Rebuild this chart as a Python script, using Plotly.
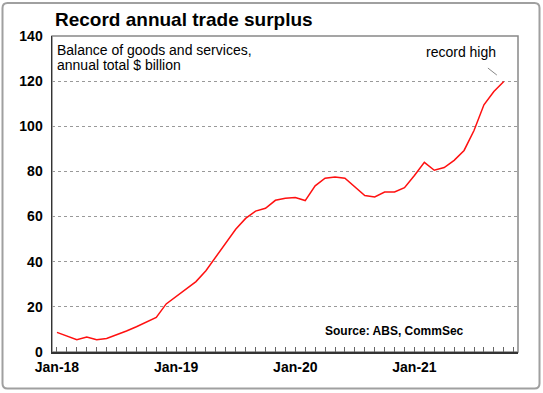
import plotly.graph_objects as go

# ---- data ----
months = ["Jan-18","Feb-18","Mar-18","Apr-18","May-18","Jun-18","Jul-18","Aug-18","Sep-18","Oct-18","Nov-18","Dec-18",
          "Jan-19","Feb-19","Mar-19","Apr-19","May-19","Jun-19","Jul-19","Aug-19","Sep-19","Oct-19","Nov-19","Dec-19",
          "Jan-20","Feb-20","Mar-20","Apr-20","May-20","Jun-20","Jul-20","Aug-20","Sep-20","Oct-20","Nov-20","Dec-20",
          "Jan-21","Feb-21","Mar-21","Apr-21","May-21","Jun-21","Jul-21","Aug-21","Sep-21","Oct-21"]
surplus = [8.7, 7.1, 5.4, 6.6, 5.4, 6.0, 7.6, 9.3, 11.2, 13.2, 15.3, 21.3,
           24.6, 27.8, 31.2, 36.0, 42.2, 48.6, 54.4, 59.2, 62.4, 63.7, 67.2, 68.1,
           68.4, 67.1, 73.6, 77.0, 77.5, 77.0, 73.1, 69.3, 68.7, 70.9, 70.9, 72.8,
           78.2, 84.0, 80.5, 81.7, 84.9, 89.3, 98.1, 109.5, 115.4, 119.8]
x_tick_labels = ["Jan-18", "Jan-19", "Jan-20", "Jan-21"]
y_ticks = [0, 20, 40, 60, 80, 100, 120, 140]

FONT = "Liberation Sans, Arial, sans-serif"
W, H = 543, 393
L, R, T, B = 52, 25, 36, 41
PW, PH = W - L - R, H - T - B

def px_x(px):
    return (px - L) / PW

def px_y(py):
    return (H - B - py) / PH

xidx = list(range(len(months)))
tickvals = [months.index(m) for m in x_tick_labels]

fig = go.Figure()
fig.add_trace(go.Scatter(x=xidx, y=surplus, mode="lines",
                         line=dict(color="#ff1010", width=1.5),
                         hoverinfo="skip", showlegend=False))

fig.update_layout(
    width=W, height=H,
    margin=dict(l=L, r=R, t=T, b=B),
    paper_bgcolor="white", plot_bgcolor="white",
    font=dict(family=FONT, color="black"),
    showlegend=False,
)

fig.update_xaxes(
    range=[-0.5, 46.43],
    tickvals=tickvals, ticktext=x_tick_labels,
    tickfont=dict(family=FONT, size=14, color="black", weight="bold"),
    ticks="inside", ticklen=5, tickcolor="#666", tickwidth=1,
    minor=dict(dtick=1, tick0=0, ticks="inside", ticklen=5, tickcolor="#666", tickwidth=1, showgrid=False),
    showgrid=False, zeroline=False,
    showline=True, linecolor="#333", linewidth=1.5,
    ticklabelstandoff=2,
)
fig.update_yaxes(
    range=[0, 140],
    tickvals=y_ticks,
    tickfont=dict(family=FONT, size=14, color="black", weight="bold"),
    ticks="",
    showgrid=True, gridcolor="#999", griddash="dot", gridwidth=1,
    zeroline=False,
    showline=True, linecolor="#333", linewidth=1.5,
    ticklabelstandoff=5,
)

# plot-area frame (top/right gray)
fig.add_shape(type="rect", xref="paper", yref="paper", x0=0, y0=0, x1=1, y1=1,
              line=dict(color="#888", width=1.5), layer="below")

# outer rounded frame
x0p, x1p = px_x(2.5), px_x(539.5)
y0p, y1p = px_y(388.5), px_y(3)
rx, ry = 5 / PW, 5 / PH
path = (f"M {x0p+rx},{y1p} L {x1p-rx},{y1p} Q {x1p},{y1p} {x1p},{y1p-ry} "
        f"L {x1p},{y0p+ry} Q {x1p},{y0p} {x1p-rx},{y0p} "
        f"L {x0p+rx},{y0p} Q {x0p},{y0p} {x0p},{y0p+ry} "
        f"L {x0p},{y1p-ry} Q {x0p},{y1p} {x0p+rx},{y1p} Z")
fig.add_shape(type="path", xref="paper", yref="paper", path=path,
              line=dict(color="#a0a0a0", width=2))

# leader line for "record high"
fig.add_shape(type="line", xref="x", yref="y",
              x0=43.4, y0=125.8, x1=44.3, y1=122.7,
              line=dict(color="#888", width=1))

ann = [
    dict(text="<b>Record annual trade surplus</b>", x=px_x(52.5), y=px_y(20), xanchor="left", yanchor="middle",
         font=dict(size=19, family=FONT, color="black")),
    dict(text="Balance of goods and services,", x=px_x(54.5), y=px_y(49.5), xanchor="left", yanchor="middle",
         font=dict(size=14, family=FONT, color="black")),
    dict(text="annual total $ billion", x=px_x(54.5), y=px_y(65.3), xanchor="left", yanchor="middle",
         font=dict(size=14, family=FONT, color="black")),
    dict(text="record high", x=px_x(461), y=px_y(52.5), xanchor="center", yanchor="middle",
         font=dict(size=14, family=FONT, color="black")),
    dict(text="<b>Source: ABS, CommSec</b>", x=px_x(465.5), y=px_y(331), xanchor="right", yanchor="middle",
         font=dict(size=12, family=FONT, color="black")),
]
for a in ann:
    fig.add_annotation(xref="paper", yref="paper", showarrow=False, **a)

fig.write_html("out.html",
               config={"displayModeBar": False, "staticPlot": True},
               post_script="document.body.style.margin='0';document.body.style.overflow='hidden';")
